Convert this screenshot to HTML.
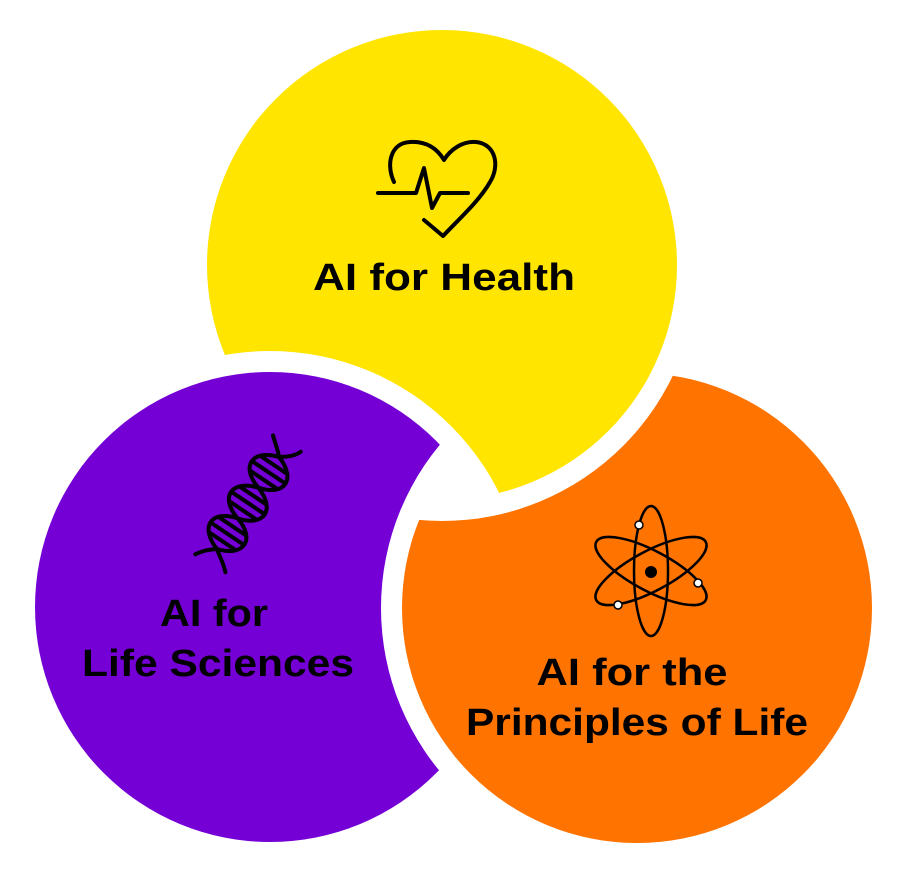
<!DOCTYPE html>
<html><head><style>
html,body{margin:0;padding:0;background:#fff;width:897px;height:873px;overflow:hidden}
svg{display:block}
text{font-family:"Liberation Sans",sans-serif;font-weight:bold;font-size:38px;fill:#000;text-anchor:middle}
</style></head><body>
<svg width="897" height="873" viewBox="0 0 897 873">
<defs>
<mask id="mY"><rect width="897" height="873" fill="#fff"/><circle cx="270" cy="607" r="256" fill="#000"/></mask>
<mask id="mO"><rect width="897" height="873" fill="#fff"/><circle cx="442" cy="265" r="256" fill="#000"/></mask>
<mask id="mP"><rect width="897" height="873" fill="#fff"/><circle cx="637" cy="608" r="256" fill="#000"/></mask>
</defs>
<circle cx="442" cy="265" r="235" fill="#FFE500" mask="url(#mY)"/>
<circle cx="637" cy="608" r="235" fill="#FF7300" mask="url(#mO)"/>
<circle cx="270" cy="607" r="235" fill="#7400D6" mask="url(#mP)"/>

<!-- heart -->
<g fill="none" stroke="#000" stroke-width="4" stroke-linecap="round" stroke-linejoin="round">
<path d="M378,193 L416,193 L424,168 L432,208 L440,193 L468,193"/>
<path d="M394,182 C386,165 390,143 410,142 C428,141 438,150 444,160 C450,150 462,141 476,142 C496,144 500,166 490,182 C480,200 460,218 443,236 L424,220"/>
</g>
<text x="444" y="290" textLength="262" lengthAdjust="spacingAndGlyphs">AI for Health</text>

<!-- DNA -->
<g transform="translate(248,503) rotate(34)" fill="none" stroke="#000" stroke-width="4" stroke-linecap="round">
<path d="M-17,-70 C-10,-64 -4,-60 0,-55.5 C27,-47 27,-26 0,-18.5 C-27,-10 -27,11 0,18.5 C27,26 27,47 0,55.5 C6,60 14,64 20,70"/>
<path d="M15,-72 C12,-64 6,-60 0,-55.5 C-27,-47 -27,-26 0,-18.5 C27,-10 27,11 0,18.5 C-27,26 -27,47 0,55.5 C-6,60 -10,64 -15,72"/>
<path d="M-15,-46 L15,-46 M-20,-37 L20,-37 M-15,-28 L15,-28 M-15,-9 L15,-9 M-20,0 L20,0 M-15,9 L15,9 M-15,28 L15,28 M-20,37 L20,37 M-15,46 L15,46"/>
</g>

<text x="214" y="626" textLength="108" lengthAdjust="spacingAndGlyphs">AI for</text>
<text x="218" y="676" textLength="272" lengthAdjust="spacingAndGlyphs">Life Sciences</text>

<!-- atom -->
<g fill="none" stroke="#000" stroke-width="2.5">
<ellipse cx="651" cy="571" rx="17" ry="65"/>
<ellipse cx="651" cy="571" rx="62" ry="20" transform="rotate(28 651 571)"/>
<ellipse cx="651" cy="571" rx="62" ry="20" transform="rotate(-28 651 571)"/>
</g>
<circle cx="651" cy="572" r="6" fill="#000"/>
<g fill="#fff" stroke="#000" stroke-width="1.5">
<circle cx="639" cy="525" r="4"/><circle cx="698" cy="583" r="4"/><circle cx="618" cy="605" r="4"/>
</g>

<text x="632" y="685" textLength="191" lengthAdjust="spacingAndGlyphs">AI for the</text>
<text x="637" y="735" textLength="342" lengthAdjust="spacingAndGlyphs">Principles of Life</text>
</svg>
</body></html>
